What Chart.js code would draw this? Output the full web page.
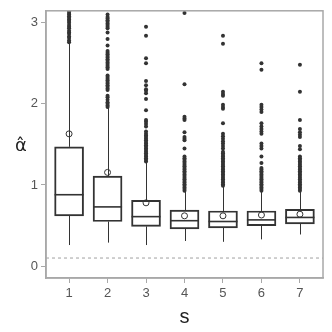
<!DOCTYPE html>
<html>
<head>
<meta charset="utf-8">
<script src="https://cdn.jsdelivr.net/npm/chart.js@4/dist/chart.umd.min.js"></script>
<style>
  body { margin: 0; background: #fff; }
  #wrap { width: 332px; height: 332px; }
</style>
</head>
<body>
<div id="wrap"><canvas id="chart" width="332" height="332"></canvas></div>
<script>
const categories = [1, 2, 3, 4, 5, 6, 7];
const q1 = [0.62, 0.55, 0.49, 0.46, 0.47, 0.50, 0.52];
const median = [0.88, 0.73, 0.61, 0.56, 0.55, 0.57, 0.60];
const q3 = [1.47, 1.11, 0.81, 0.69, 0.68, 0.68, 0.70];
const whiskerLow = [0.26, 0.29, 0.26, 0.31, 0.30, 0.33, 0.39];
const whiskerHigh = [2.75, 1.95, 1.28, 0.92, 0.98, 0.92, 0.92];
const means = [1.63, 1.155, 0.78, 0.62, 0.62, 0.63, 0.64];
const refLine = 0.1;
const yTicks = [0, 1, 2, 3];

const outliers = [
  [2.76, 2.78, 2.81, 2.83, 2.86, 2.88, 2.90, 2.93, 2.95, 2.97, 3.00, 3.02, 3.04, 3.06, 3.08, 3.10, 3.12, 3.14],
  [1.96, 1.98, 2.00, 2.02, 2.05, 2.08, 2.10, 2.17, 2.19, 2.21, 2.23, 2.25, 2.27, 2.29, 2.31, 2.33, 2.35,
   2.43, 2.45, 2.47, 2.49, 2.51, 2.53, 2.55, 2.57, 2.59, 2.61, 2.63, 2.65, 2.72, 2.80, 2.88,
   2.93, 2.95, 2.97, 2.99, 3.01, 3.03, 3.05, 3.07, 3.10],
  [1.29, 1.31, 1.33, 1.35, 1.37, 1.39, 1.41, 1.43, 1.45, 1.47, 1.49, 1.51, 1.53, 1.55, 1.57, 1.59, 1.61,
   1.63, 1.66, 1.72, 1.75, 1.78, 1.80, 1.92, 2.06, 2.13, 2.16, 2.18, 2.23, 2.28, 2.50, 2.56, 2.84, 2.95],
  [0.93, 0.95, 0.97, 0.99, 1.01, 1.03, 1.05, 1.07, 1.09, 1.11, 1.13, 1.15, 1.17, 1.19, 1.21, 1.23, 1.25,
   1.27, 1.29, 1.31, 1.33, 1.35, 1.45, 1.55, 1.57, 1.59, 1.65, 1.80, 1.82, 1.84, 2.24, 3.12],
  [0.99, 1.01, 1.03, 1.05, 1.07, 1.09, 1.11, 1.13, 1.15, 1.17, 1.19, 1.21, 1.23, 1.25, 1.27, 1.29, 1.31,
   1.33, 1.35, 1.37, 1.39, 1.41, 1.45, 1.48, 1.51, 1.54, 1.57, 1.60, 1.63, 1.76, 1.94, 1.96, 1.99,
   2.10, 2.12, 2.15, 2.74, 2.84],
  [0.93, 0.95, 0.97, 0.99, 1.01, 1.03, 1.05, 1.07, 1.09, 1.11, 1.13, 1.15, 1.17, 1.19, 1.21, 1.27, 1.35,
   1.45, 1.48, 1.51, 1.63, 1.66, 1.69, 1.72, 1.76, 1.90, 1.93, 1.96, 1.99, 2.42, 2.50],
  [0.93, 0.95, 0.97, 0.99, 1.01, 1.03, 1.05, 1.07, 1.09, 1.11, 1.13, 1.15, 1.17, 1.19, 1.21, 1.23, 1.25,
   1.27, 1.29, 1.31, 1.33, 1.35, 1.44, 1.48, 1.59, 1.62, 1.65, 1.69, 1.80, 2.15, 2.48]
];

const xTitle = 's';
const yTitle = '\u03B1\u0302';

const ink = '#333333';
const frame = '#a8a8a8';

// whiskers, medians, frame, reference line and axis titles
const boxExtras = {
  id: 'boxExtras',
  beforeDatasetsDraw(chart) {
    const { ctx, chartArea: a, scales: { x, y } } = chart;
    ctx.save();
    ctx.strokeStyle = '#b0b0b0';
    ctx.lineWidth = 1.2;
    ctx.setLineDash([3, 3]);
    ctx.beginPath();
    ctx.moveTo(a.left, y.getPixelForValue(refLine));
    ctx.lineTo(a.right, y.getPixelForValue(refLine));
    ctx.stroke();
    ctx.setLineDash([]);
    ctx.beginPath();
    ctx.rect(a.left, a.top, a.right - a.left, a.bottom - a.top);
    ctx.clip();
    ctx.strokeStyle = ink;
    ctx.lineWidth = 1;
    categories.forEach((c, i) => {
      const px = Math.round(x.getPixelForValue(c)) + 0.5;
      ctx.beginPath();
      ctx.moveTo(px, y.getPixelForValue(q3[i]));
      ctx.lineTo(px, y.getPixelForValue(whiskerHigh[i]));
      ctx.moveTo(px, y.getPixelForValue(q1[i]));
      ctx.lineTo(px, y.getPixelForValue(whiskerLow[i]));
      ctx.stroke();
    });
    ctx.restore();
  },
  afterDatasetsDraw(chart) {
    const { ctx, chartArea: a, scales: { x, y } } = chart;
    const half = 14.5;
    ctx.save();
    ctx.strokeStyle = ink;
    ctx.lineWidth = 1.6;
    categories.forEach((c, i) => {
      const px = x.getPixelForValue(c);
      const py = y.getPixelForValue(median[i]);
      ctx.beginPath();
      ctx.moveTo(px - half, py);
      ctx.lineTo(px + half, py);
      ctx.stroke();
    });
    ctx.strokeStyle = frame;
    ctx.lineWidth = 1.5;
    ctx.strokeRect(a.left, a.top, a.right - a.left, a.bottom - a.top);

    ctx.fillStyle = '#222';
    ctx.textAlign = 'center';
    ctx.textBaseline = 'middle';
    ctx.font = '18px "DejaVu Sans"';
    ctx.fillText(yTitle, 21, 146);
    ctx.font = '20px "Liberation Sans"';
    ctx.fillText(xTitle, (a.left + a.right) / 2, 317);
    ctx.restore();
  }
};

const outlierPoints = [];
outliers.forEach((list, i) => list.forEach(v => outlierPoints.push({ x: categories[i], y: v })));

new Chart(document.getElementById('chart'), {
  type: 'bar',
  data: {
    datasets: [
      {
        type: 'bar',
        data: categories.map((c, i) => ({ x: c, y: [q1[i], q3[i]] })),
        backgroundColor: 'rgba(255,255,255,0)',
        borderColor: ink,
        borderWidth: 1.3,
        borderSkipped: false,
        barThickness: 29,
        order: 3
      },
      {
        type: 'scatter',
        data: outlierPoints,
        pointRadius: 2,
        pointBackgroundColor: ink,
        pointBorderWidth: 0,
        order: 2
      },
      {
        type: 'scatter',
        data: categories.map((c, i) => ({ x: c, y: means[i] })),
        pointRadius: 3,
        pointBackgroundColor: 'rgba(255,255,255,0)',
        pointBorderColor: ink,
        pointBorderWidth: 1,
        order: 1
      }
    ]
  },
  options: {
    responsive: false,
    devicePixelRatio: 1,
    animation: false,
    layout: { padding: { left: 0, top: 8, right: 9, bottom: 0 } },
    plugins: { legend: { display: false }, tooltip: { enabled: false } },
    scales: {
      x: {
        type: 'linear',
        min: 0.4,
        max: 7.6,
        offset: false,
        afterBuildTicks: s => { s.ticks = categories.map(v => ({ value: v })); },
        afterFit: s => { s.height = 54; },
        grid: { drawOnChartArea: false, offset: false, tickLength: 5, color: frame, lineWidth: 1 },
        border: { color: frame, width: 1.5 },
        ticks: { color: '#555', padding: 3, autoSkip: false, maxRotation: 0, font: { family: 'Liberation Sans', size: 13 } }
      },
      y: {
        type: 'linear',
        min: -0.146,
        max: 3.146,
        afterBuildTicks: s => { s.ticks = yTicks.map(v => ({ value: v })); },
        afterFit: s => { s.width = 46; },
        grid: { drawOnChartArea: false, tickLength: 5, color: frame, lineWidth: 1 },
        border: { color: frame, width: 1.5 },
        ticks: { color: '#555', padding: 3, font: { family: 'Liberation Sans', size: 13 } }
      }
    }
  },
  plugins: [boxExtras]
});
</script>
</body>
</html>
